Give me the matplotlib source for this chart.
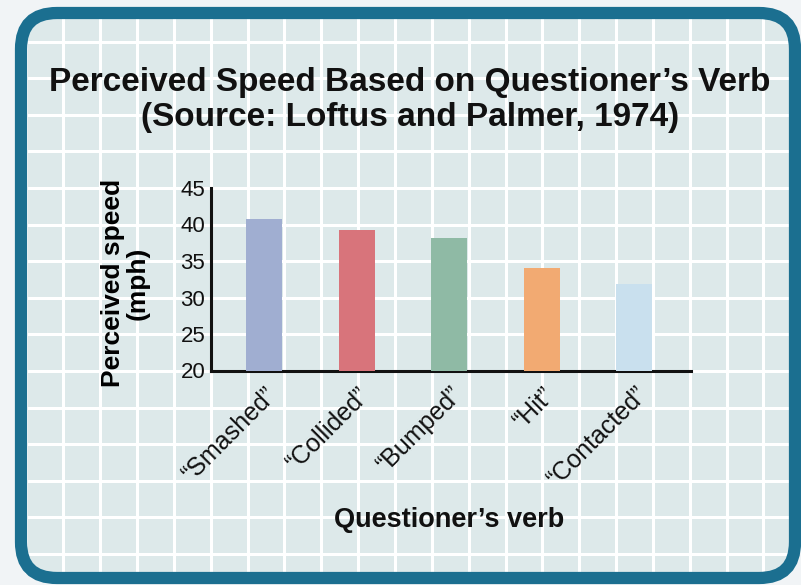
#!/usr/bin/env python3
"""
Perceived speed by questioner's verb (Loftus and Palmer, 1974), bar chart on grid paper.
"""

import numpy as np
import matplotlib.pyplot as plt
from matplotlib.patches import FancyBboxPatch

plt.rcParams.update({
    'font.family': 'Liberation Sans',
    'font.size': 16,
})

# Data
verbs = ['\u201cSmashed\u201d', '\u201cCollided\u201d', '\u201cBumped\u201d',
         '\u201cHit\u201d', '\u201cContacted\u201d']
speeds = [40.8, 39.3, 38.1, 34.0, 31.8]
bar_colors = ['#a0aed1', '#d8747b', '#8fbaa5', '#f2aa72', '#c9e0ee']
yticks = [20, 25, 30, 35, 40, 45]

W, H = 801, 585
fig = plt.figure(figsize=(W / 100, H / 100), dpi=100)
fig.patch.set_facecolor('#f1f4f6')

# Background: rounded frame with grid paper
bg = fig.add_axes([0, 0, 1, 1], zorder=0)
bg.set_xlim(0, W)
bg.set_ylim(H, 0)
bg.axis('off')

box = dict(boxstyle='round,pad=0,rounding_size=36')
bg.add_patch(FancyBboxPatch((21, 13), 774, 565, fc='#dde9ea', ec='none',
                            zorder=1, **box))
# grid paper lines, kept inside the frame
x0, x1, y0, y1 = 27, 789, 19, 572
for gx in np.arange(210.7 - 36.85 * 5, x1, 36.85):
    bg.plot([gx, gx], [y0, y1], color='white', lw=2.2, zorder=1.5)
for gy in np.arange(188 - 36.6 * 4, y1, 36.6):
    bg.plot([x0, x1], [gy, gy], color='white', lw=2.2, zorder=1.5)
bg.add_patch(FancyBboxPatch((21, 13), 774, 565, fc='none', ec='#1b6f90',
                            lw=8.8, zorder=2, **box))

# Main chart
ax = fig.add_axes([210.7 / W, 1 - 370.5 / H, 480 / W, 182.5 / H], zorder=2)
ax.patch.set_alpha(0)

x = np.arange(len(verbs))
ax.bar(x, speeds, width=0.39, bottom=0, color=bar_colors, zorder=3)

ax.set_ylim(20, 45)
ax.set_xlim(-0.576, 4.61)
ax.set_yticks(yticks)
ax.set_xticks(x)
ax.set_xticklabels(verbs, rotation=45, ha='right', va='top',
                   rotation_mode='anchor', fontsize=18)

for side in ['top', 'right']:
    ax.spines[side].set_visible(False)
for side in ['left', 'bottom']:
    ax.spines[side].set_linewidth(2.2)
    ax.spines[side].set_color('#111111')
ax.tick_params(axis='both', length=0, colors='#111111')
ax.tick_params(axis='y', pad=4, labelsize=16)
ax.tick_params(axis='x', pad=9)

ax.set_ylabel('Perceived speed\n(mph)', fontsize=19, fontweight='bold',
              linespacing=1.05)
ax.yaxis.set_label_coords(-0.127, 0.48)

fig.text(449 / W, 1 - 520 / H, 'Questioner\u2019s verb', fontsize=19.5,
         fontweight='bold', ha='center', va='center', color='#111111')

fig.text(410 / W, 1 - 100 / H,
         'Perceived Speed Based on Questioner\u2019s Verb\n(Source: Loftus and Palmer, 1974)',
         fontsize=24, fontweight='bold', ha='center', va='center',
         linespacing=1.15, color='#111111')

plt.savefig('out.png', dpi=100, facecolor=fig.get_facecolor())
plt.close()
